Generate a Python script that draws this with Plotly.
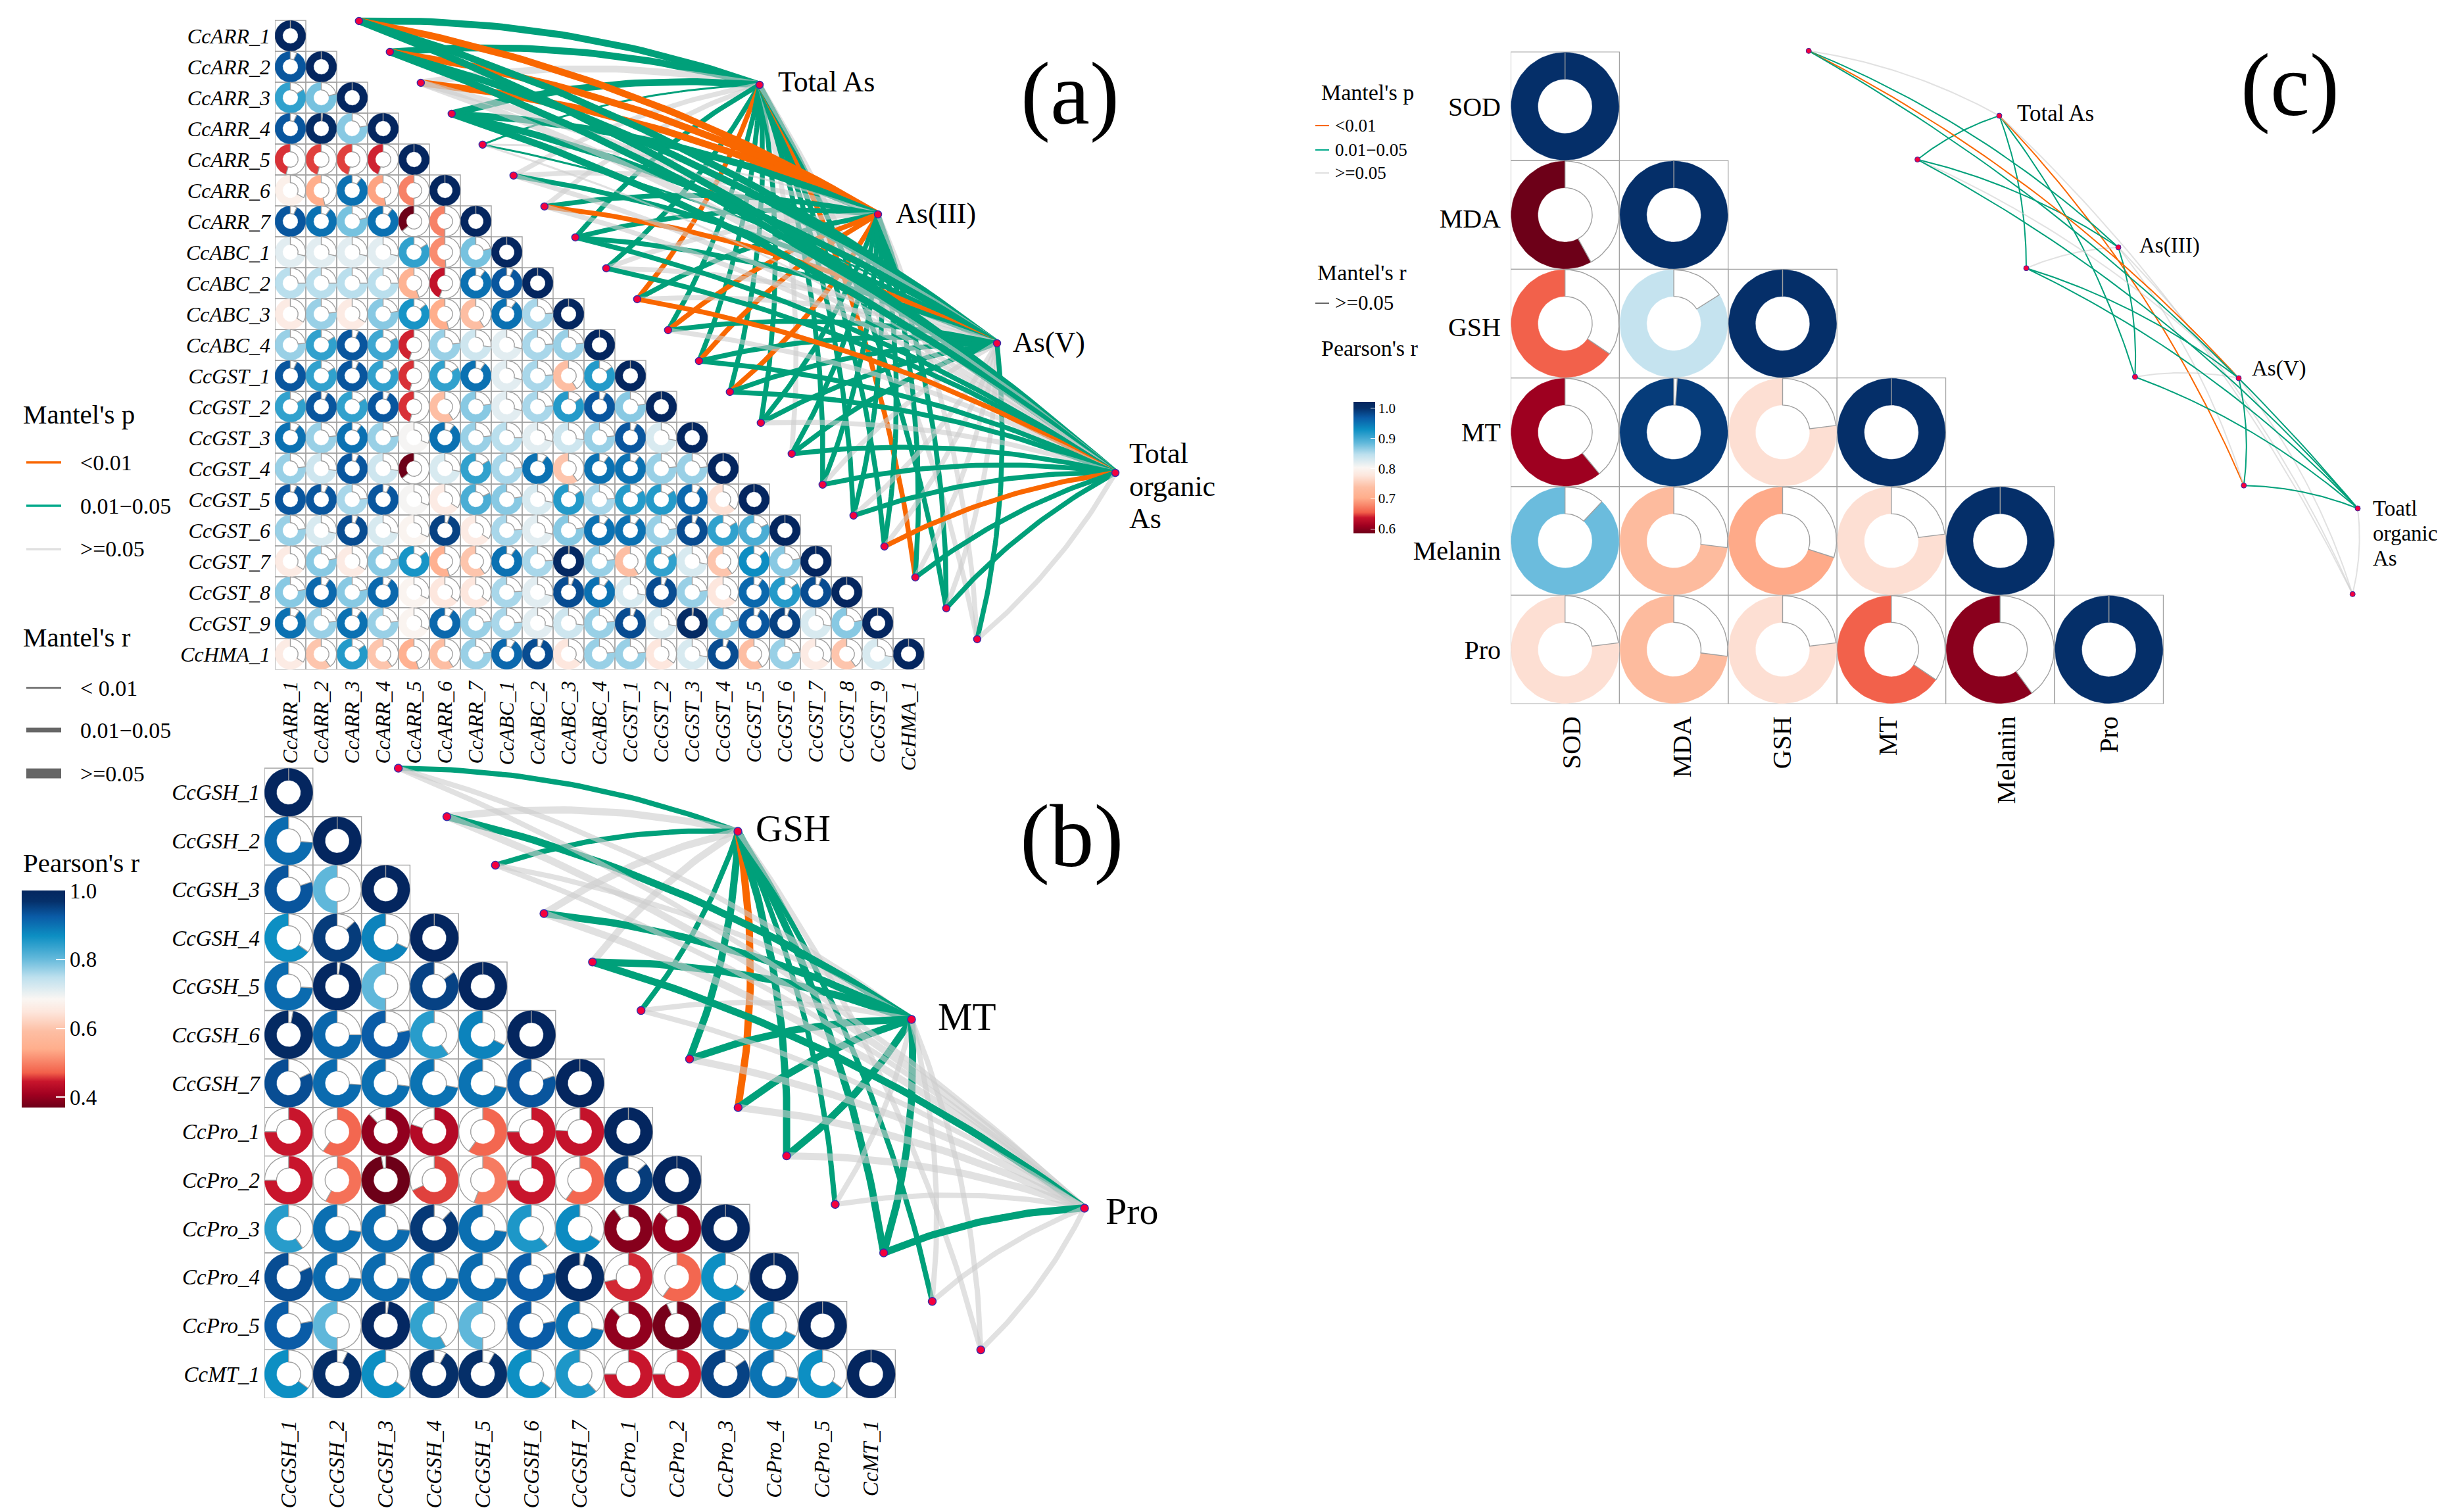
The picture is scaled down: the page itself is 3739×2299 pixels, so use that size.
import math
import plotly.graph_objects as go

W, H = 3739, 2299
SERIF = "Liberation Serif"

# ---------- data ----------
A_LABELS = ["CcARR_1","CcARR_2","CcARR_3","CcARR_4","CcARR_5","CcARR_6","CcARR_7","CcABC_1","CcABC_2","CcABC_3","CcABC_4",
            "CcGST_1","CcGST_2","CcGST_3","CcGST_4","CcGST_5","CcGST_6","CcGST_7","CcGST_8","CcGST_9","CcHMA_1"]
A_VALUES = [
 [],
 [.93],
 [.84,.79],
 [.93,.985,.78],
 [.455,.46,.46,.45],
 [.67,.54,.90,.53,.50],
 [.93,.90,.79,.90,.36,.50],
 [.71,.71,.71,.71,.84,.51,.79],
 [.75,.75,.75,.75,.555,.44,.90,.93],
 [.66,.77,.66,.78,.86,.54,.59,.90,.76],
 [.77,.84,.93,.83,.45,.77,.73,.71,.76,.77],
 [.93,.84,.93,.84,.455,.84,.90,.71,.76,.59,.85],
 [.84,.93,.84,.93,.455,.59,.78,.71,.76,.85,.93,.78],
 [.90,.77,.90,.77,.69,.90,.77,.75,.71,.73,.77,.93,.72],
 [.77,.73,.93,.73,.36,.72,.84,.76,.90,.60,.90,.90,.77,.77],
 [.93,.93,.76,.93,.69,.66,.82,.78,.72,.85,.76,.85,.85,.91,.64],
 [.77,.72,.94,.72,.68,.95,.66,.76,.71,.78,.90,.90,.77,.94,.84,.82],
 [.66,.78,.66,.78,.86,.55,.60,.90,.76,.99,.77,.59,.84,.72,.60,.87,.78],
 [.78,.91,.78,.91,.68,.65,.65,.76,.71,.94,.90,.72,.94,.77,.65,.91,.85,.94],
 [.90,.77,.90,.77,.68,.91,.77,.76,.71,.73,.77,.94,.72,.985,.78,.93,.95,.72,.78],
 [.66,.60,.85,.60,.55,.59,.77,.91,.94,.65,.77,.77,.65,.72,.94,.59,.77,.66,.60,.72],
]
A_TARGETS = ["Total As","As(III)","As(V)","Total organic As"]
A_P = {
 "Total As":        "ggxggxxggoggggxgggogx",
 "As(III)":         "ooogxxggxgooogggggggx",
 "As(V)":           "ggxgggogxxgggggxxxxxg",
 "Total organic As":"ggxgxxxggoxggxgggoggx",
}
A_RCLASS = [2,2,2,2,0,1,1,1,1,1,1,1,1,1,1,1,1,1,1,1,1]

B_LABELS = ["CcGSH_1","CcGSH_2","CcGSH_3","CcGSH_4","CcGSH_5","CcGSH_6","CcGSH_7","CcPro_1","CcPro_2","CcPro_3","CcPro_4","CcPro_5","CcMT_1"]
B_VALUES = [
 [],
 [.74],
 [.8,.5],
 [.65,.87,.68],
 [.74,.98,.5,.85],
 [.97,.75,.78,.6,.68],
 [.82,.74,.73,.72,.72,.8],
 [-.75,-.6,-.88,-.8,-.6,-.75,-.76],
 [-.75,-.58,-.97,-.68,-.56,-.75,-.6,.87],
 [.6,.73,.74,.88,.73,.62,.66,-.9,-.87],
 [.82,.74,.74,.74,.74,.78,.96,-.72,-.6,.65],
 [.78,.5,.98,.58,.5,.78,.72,-.88,-.93,.72,.68],
 [.65,.93,.65,.92,.92,.65,.62,-.75,-.75,.85,.72,.65],
]
B_TARGETS = ["GSH","MT","Pro"]
B_P = {
 "GSH": "gxgxxggoggggx",
 "MT":  "xgxggxgggxgxx",
 "Pro": "xxxxgxxxxxgxx",
}
B_RCLASS = [1,2,1,2,2,1,2,2,2,1,2,1,1]

C_LABELS = ["SOD","MDA","GSH","MT","Melanin","Pro"]
C_VALUES = [
 [],
 [.58],
 [.655,.84],
 [.61,.99,.77],
 [.88,.73,.70,.77],
 [.77,.73,.77,.655,.60],
]
C_TARGETS = ["Total As","As(III)","As(V)","Toatl organic As"]
C_P = {
 "Total As":        "xgggox",
 "As(III)":         "ggxgxx",
 "As(V)":           "oxgxgx",
 "Toatl organic As":"ggggGx".replace("G","g"),
}
C_RCLASS = [0,0,0,0,0,0]

# ---------- styles ----------
PALETTE = [(0,"#6d0018"),(.06,"#a00020"),(.12,"#c8152c"),(.16,"#f2604a"),(.27,"#ffae8c"),(.35,"#fdbea3"),(.44,"#fde6dc"),(.5,"#faf6f3"),
           (.6,"#bde0ee"),(.69,"#5fb7da"),(.79,"#0d8fc3"),(.88,"#0a5ba6"),(.95,"#05306a"),(1,"#04265f")]
LEGEND_PALETTE = [[p, c] for p, c in PALETTE]
P_COLOR = {"o":"#f96700","g":"#00a07a","x":"rgba(205,205,205,0.6)"}

def interp(x, xs, ys):
    if x <= xs[0]: return ys[0]
    for k in range(1, len(xs)):
        if x <= xs[k]:
            return ys[k-1] + (ys[k]-ys[k-1])*(x-xs[k-1])/(xs[k]-xs[k-1])
    return ys[-1]

def pal_color(p):
    xs = [a for a, _ in PALETTE]
    for k in range(1, len(xs)):
        if p <= xs[k]:
            t = (p-xs[k-1])/(xs[k]-xs[k-1]) if xs[k] > xs[k-1] else 0
            a, b = PALETTE[k-1][1], PALETTE[k][1]
            rgb = [round(int(a[i:i+2],16)+(int(b[i:i+2],16)-int(a[i:i+2],16))*t) for i in (1,3,5)]
            return "rgb(%d,%d,%d)" % tuple(rgb)
    return PALETTE[-1][1]

def scale_linear(lo, hi):
    return lambda v: pal_color(max(0,min(1,(v-lo)/(hi-lo))))
SIGN_X = [-1,-.95,-.85,-.75,-.6,-.5,0,.4,.5,.65,.75,.85,.95,1]
SIGN_Y = [0,0,.06,.12,.17,.24,.5,.64,.69,.79,.86,.92,.97,1]
scale_signed = lambda v: pal_color(interp(v, SIGN_X, SIGN_Y))

fig = go.Figure()
layout_axes = {}
shapes, annots = [], []

def px_x(x): return x/W
def px_y(y): return 1-y/H

def note(text, x, y, size, anchor="left"):
    annots.append(dict(text=text, xref="paper", yref="paper", x=px_x(x), y=px_y(y), xanchor=anchor, yanchor="middle",
                       showarrow=False, font=dict(family=SERIF, size=size, color="black")))

def sector(cx, cy, t0, t1):
    n = max(2, int(abs(t1-t0)/(2*math.pi)*72))
    ts = [t0+(t1-t0)*k/n for k in range(n+1)]
    xs = [cx+.496*math.sin(t) for t in ts]+[cx+.25*math.sin(t) for t in reversed(ts)]
    ys = [cy-.496*math.cos(t) for t in ts]+[cy-.25*math.cos(t) for t in reversed(ts)]
    return xs+[xs[0],None], ys+[ys[0],None]

def curve(x0, y0, x1, y1, sag=.045, n=40):
    dx, dy = x1-x0, y1-y0
    nx, ny = dy, -dx
    if nx - ny < 0:          # always bulge to the upper right
        nx, ny = -nx, -ny
    cx, cy = (x0+x1)/2+2*sag*nx, (y0+y1)/2+2*sag*ny
    xs, ys = [], []
    for k in range(n+1):
        t = k/n
        xs.append((1-t)**2*x0+2*t*(1-t)*cx+t*t*x1)
        ys.append((1-t)**2*y0+2*t*(1-t)*cy+t*t*y1)
    return xs, ys

def panel(idx, labels, values, colorfn, left, top, cw, ch, right, node_off, tpix, targets, P, rclass, widths,
          font_size, italic, xstand, ystand, msize, mline, gridw, xnudge=None, ynudge=None):
    n = len(labels)
    xn, yn = ("x%d" % idx, "y%d" % idx)
    bottom = top+n*ch
    ext = 25
    xnudge = xnudge or [0]*n
    ynudge = ynudge or [0]*n
    style = "italic" if italic else "normal"
    layout_axes["xaxis%d" % idx] = dict(domain=[px_x(left), px_x(right)], range=[-.5, -.5+(right-left)/cw], anchor=yn,
        showgrid=False, zeroline=False, showline=False, ticks="", tickmode="array",
        tickvals=[i+d for i, d in enumerate(xnudge)], ticktext=labels, tickangle=-90, ticklabelstandoff=xstand,
        tickfont=dict(family=SERIF, size=font_size, color="black", style=style))
    layout_axes["yaxis%d" % idx] = dict(domain=[px_y(bottom), px_y(top-ext)], range=[n-.5, -.5-ext/ch], anchor=xn,
        showgrid=False, zeroline=False, showline=False, ticks="", tickmode="array",
        tickvals=[i+d for i, d in enumerate(ynudge)], ticktext=labels, ticklabelstandoff=ystand,
        tickfont=dict(family=SERIF, size=font_size, color="black", style=style))
    # cells
    gx, gy = [], []
    for i in range(n):
        for j in range(i+1):
            gx += [j-.5, j+.5, j+.5, j-.5, j-.5, None]
            gy += [i-.5, i-.5, i+.5, i+.5, i-.5, None]
    fig.add_trace(go.Scatter(x=gx, y=gy, xaxis=xn, yaxis=yn, mode="lines", line=dict(color="#a3a3a3", width=gridw), hoverinfo="skip", showlegend=False))
    # rings
    groups = {}
    wx, wy = [], []
    for i in range(n):
        row = list(values[i])+[1.0]
        for j, v in enumerate(row):
            sgn = -1 if v > 0 else 1      # positive values run anticlockwise from the top
            end = sgn*abs(v)*2*math.pi
            xs, ys = sector(j, i, 0, end)
            g = groups.setdefault(v, ([], []))
            g[0].extend(xs); g[1].extend(ys)
            xs, ys = sector(j, i, end, sgn*2*math.pi)
            wx += xs; wy += ys
    for v, (xs, ys) in groups.items():
        c = colorfn(v)
        fig.add_trace(go.Scatter(x=xs, y=ys, xaxis=xn, yaxis=yn, mode="lines", fill="toself", fillcolor=c,
                                 line=dict(color=c, width=.5), hoverinfo="skip", showlegend=False))
    fig.add_trace(go.Scatter(x=wx, y=wy, xaxis=xn, yaxis=yn, mode="lines", fill="toself", fillcolor="white",
                             line=dict(color="#a0a0a0", width=1.4), hoverinfo="skip", showlegend=False))
    # links
    nodes = [(i+node_off[0], i+node_off[1]) for i in range(n)]
    tdata = [((px-left)/cw-.5, (py-top)/ch-.5) for px, py in tpix]
    for name, t in zip(targets, tdata):
        for i, code in enumerate(P[name]):
            xs, ys = curve(nodes[i][0], nodes[i][1], t[0], t[1])
            fig.add_trace(go.Scatter(x=xs, y=ys, xaxis=xn, yaxis=yn, mode="lines",
                                     line=dict(color=P_COLOR[code], width=widths[rclass[i]]), hoverinfo="skip", showlegend=False))
    fig.add_trace(go.Scatter(x=[p[0] for p in nodes]+[t[0] for t in tdata], y=[p[1] for p in nodes]+[t[1] for t in tdata],
                             xaxis=xn, yaxis=yn, mode="markers",
                             marker=dict(size=msize, color="#f5003d", line=dict(color="#3a2ca8", width=mline)),
                             hoverinfo="skip", showlegend=False))

panel(1, A_LABELS, A_VALUES, scale_linear(.37, 1.0), 418, 31, 47, 47, 1780, (2.22, -.48),
      [(1155,129),(1335,326),(1516,522),(1696,719)], A_TARGETS, A_P, A_RCLASS, [3,7.5,10.5],
      32, True, 10, 6, 11, 1.5, 1.4)
panel(2, B_LABELS, B_VALUES, scale_signed, 402, 1168, 73.8, 73.7, 1720, (2.26, -.5),
      [(1122,1264),(1386,1550),(1649,1837)], B_TARGETS, B_P, B_RCLASS, [4,8,11],
      33, True, 26, 6, 12, 1.5, 1.4)
panel(3, C_LABELS, C_VALUES, scale_linear(.585, 1.02), 2297, 79, 165.4, 165.2, 3739, (2.24, -.51),
      [(3040,176),(3221,376),(3404,575),(3585,773)], C_TARGETS, C_P, C_RCLASS, [2,2,2],
      40, False, 10, 14, 8, 1, 1.2,
      xnudge=[.06,.08,0,-.03,.06,0], ynudge=[0,.03,.03,0,.09,0])

# ---------- colour bars ----------
fig.add_trace(go.Scatter(x=[0,0], y=[0,0], xaxis="x1", yaxis="y1", mode="markers", opacity=0, hoverinfo="skip", showlegend=False,
                         marker=dict(size=1, color=[.37,1.0], coloraxis="coloraxis")))
fig.add_trace(go.Scatter(x=[0,0], y=[0,0], xaxis="x3", yaxis="y3", mode="markers", opacity=0, hoverinfo="skip", showlegend=False,
                         marker=dict(size=1, color=[.585,1.02], coloraxis="coloraxis2")))
coloraxis = dict(cmin=.37, cmax=1.0, colorscale=LEGEND_PALETTE, colorbar=dict(
    x=px_x(33), xanchor="left", y=px_y(1354), yanchor="top", thicknessmode="pixels", thickness=66, lenmode="pixels", len=330,
    xpad=0, ypad=0, outlinewidth=0, ticks="inside", ticklen=14, tickcolor="white", tickwidth=1.5,
    tickmode="array", tickvals=[.4,.6,.8,1.0], ticktext=["0.4","0.6","0.8","1.0"], tickfont=dict(family=SERIF, size=33, color="black")))
coloraxis2 = dict(cmin=.585, cmax=1.02, colorscale=LEGEND_PALETTE, colorbar=dict(
    x=px_x(2058), xanchor="left", y=px_y(611), yanchor="top", thicknessmode="pixels", thickness=33, lenmode="pixels", len=200,
    xpad=0, ypad=0, outlinewidth=0, ticks="inside", ticklen=7, tickcolor="white", tickwidth=1,
    tickmode="array", tickvals=[.6,.7,.8,.9,1.0], ticktext=["0.6","0.7","0.8","0.9","1.0"], tickfont=dict(family=SERIF, size=21, color="black")))

# ---------- legends and labels ----------
def key(x0, x1, y, color, width):
    shapes.append(dict(type="line", xref="paper", yref="paper", x0=px_x(x0), x1=px_x(x1), y0=px_y(y), y1=px_y(y), line=dict(color=color, width=width)))

note("Mantel's p", 33, 630, 41)
for y, c, t in [(703,"#f96700","&lt;0.01"),(769,"#00a98a","0.01−0.05"),(835,"#e0e0e0","&gt;=0.05")]:
    key(40, 93, y, c, 3.5); note(t, 120, y, 34)
note("Mantel's r", 33, 969, 41)
for y, w, t in [(1046,2.5,"&lt; 0.01"),(1110,7,"0.01−0.05"),(1176,15,"&gt;=0.05")]:
    key(40, 93, y, "#666666", w); note(t, 120, y, 34)
note("Pearson's r", 33, 1312, 41)

note("Mantel's p", 2007, 141, 34)
for y, c, t in [(191,"#f96700","&lt;0.01"),(228,"#00a98a","0.01−0.05"),(263,"#e0e0e0","&gt;=0.05")]:
    key(2000, 2021, y, c, 2); note(t, 2028, y, 27)
note("Mantel's r", 2001, 415, 34)
key(2000, 2021, 461, "#666666", 2); note("&gt;=0.05", 2028, 461, 31)
note("Pearson's r", 2007, 529, 34)

note("Total As", 1181, 124, 44); note("As(III)", 1360, 324, 44); note("As(V)", 1538, 520, 44)
for y, t in [(689,"Total"),(739,"organic"),(789,"As")]: note(t, 1715, y, 44)
note("GSH", 1147, 1259, 57); note("MT", 1424, 1546, 59); note("Pro", 1679, 1841, 58)
note("Total As", 3065, 172, 35); note("As(III)", 3251, 374, 33); note("As(V)", 3422, 560, 33)
for y, t in [(773,"Toatl"),(811,"organic"),(849,"As")]: note(t, 3606, y, 33)
note("(a)", 1627, 143, 135, "center"); note("(b)", 1629, 1271, 135, "center"); note("(c)", 3482, 129, 135, "center")

fig.update_layout(width=W, height=H, autosize=False, margin=dict(l=0, r=0, t=0, b=0), paper_bgcolor="white", plot_bgcolor="rgba(0,0,0,0)",
                  showlegend=False, coloraxis=coloraxis, coloraxis2=coloraxis2, shapes=shapes, annotations=annots, **layout_axes)
fig.write_html("out.html", post_script="document.body.style.margin='0';document.documentElement.style.overflow='hidden';",
               config={"displayModeBar": False})
